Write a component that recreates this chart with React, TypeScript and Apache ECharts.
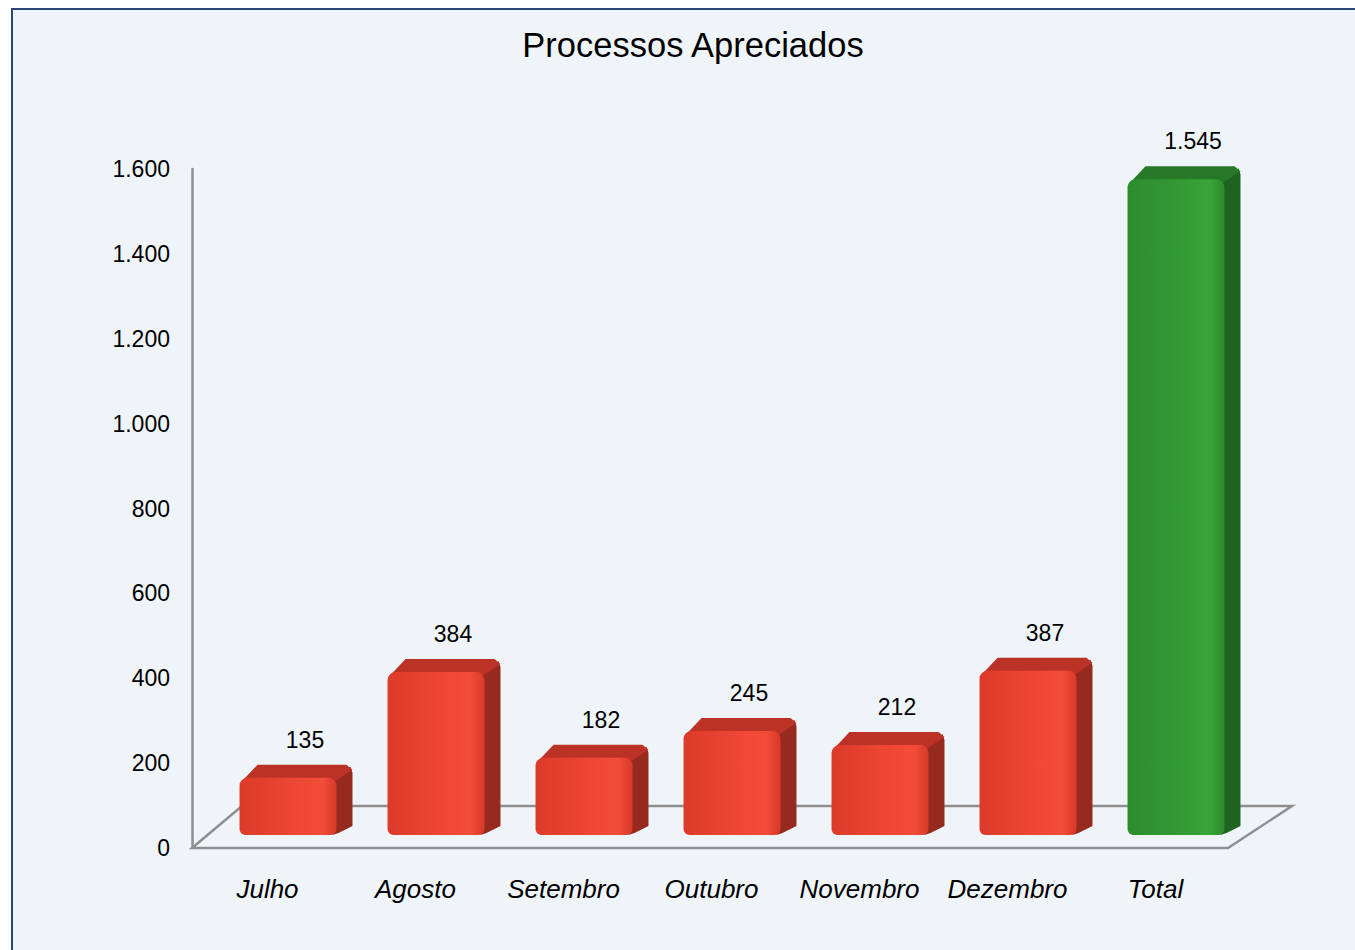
import React, { useEffect, useRef } from "react";
import * as echarts from "echarts";

const categories = ["Julho", "Agosto", "Setembro", "Outubro", "Novembro", "Dezembro", "Total"];
const values = [135, 384, 182, 245, 212, 387, 1545];
const yTicks = { min: 0, max: 1600, interval: 200 };
const titleText = "Processos Apreciados";

const RED = { front: ["#dc3a2a", "#ec4533", "#f34d3a", "#d8392a"], side: "#962a1f", top: "#bd3226" };
const GREEN = { front: ["#2c8c2c", "#339933", "#39a539", "#2c892c"], side: "#1f6320", top: "#28782a" };

const fmt = (v: number) => {
  const s = String(Math.round(v));
  return s.replace(/\B(?=(\d{3})+(?!\d))/g, ".");
};

const GRID = { left: 192, right: 127, top: 169, bottom: 102 };
const W = 1355;
const H = 950;
const DEPTH_X = 50;
const DEPTH_Y = 42;
const FONT = "Liberation Sans, Arial, sans-serif";

export default function App() {
  const ref = useRef<HTMLDivElement>(null);
  useEffect(() => {
    document.body.style.margin = "0";
    const chart = echarts.init(ref.current!, null, { renderer: "svg" });
    const fx0 = GRID.left;
    const fx1 = W - GRID.right;
    const fy = H - GRID.bottom;
    chart.setOption({
      animation: false,
      backgroundColor: "#ffffff",
      textStyle: { fontFamily: FONT },
      title: {
        text: titleText,
        left: 688,
        top: 22,
        textAlign: "center",
        textStyle: { fontSize: 34.5, fontWeight: "normal", color: "#000", fontFamily: FONT, lineHeight: 36 },
      },
      graphic: [
        {
          type: "rect",
          z: -10,
          silent: true,
          shape: { x: 12, y: 9, width: 1400, height: 1000 },
          style: { fill: "#eff4f9", stroke: "#2b4777", lineWidth: 2 },
        },
        {
          type: "polygon",
          z: 0,
          silent: true,
          shape: {
            points: [
              [fx0, fy],
              [fx1, fy],
              [fx1 + DEPTH_X + 14, fy - DEPTH_Y],
              [fx0 + DEPTH_X, fy - DEPTH_Y],
            ],
          },
          style: { fill: "none", stroke: "#8f8f8f", lineWidth: 2.5 },
        },
      ],
      grid: { left: GRID.left, right: GRID.right, top: GRID.top, bottom: GRID.bottom },
      xAxis: {
        type: "category",
        data: categories,
        axisLine: { show: false },
        axisTick: { show: false },
        axisLabel: {
          interval: 0,
          margin: 28,
          fontSize: 26,
          fontStyle: "italic",
          color: "#000",
          fontFamily: FONT,
          padding: [0, 0, 0, 3],
        },
      },
      yAxis: {
        type: "value",
        min: yTicks.min,
        max: yTicks.max,
        interval: yTicks.interval,
        splitLine: { show: false },
        axisTick: { show: false },
        axisLine: { show: true, lineStyle: { color: "#8f8f8f", width: 2.5 } },
        axisLabel: {
          margin: 22,
          fontSize: 23,
          color: "#000",
          fontFamily: FONT,
          formatter: (v: number) => fmt(v),
        },
      },
      series: [
        {
          type: "custom",
          z: 5,
          data: values.map((v, i) => [i, v]),
          renderItem: (params: any, api: any) => {
            const idx = api.value(0);
            const val = api.value(1);
            const base = api.coord([idx, 0]);
            const top = api.coord([idx, val]);
            const band = api.size([1, 0])[0];
            const w = band * 0.655;
            const cx = base[0] + 22;
            const x0 = cx - w / 2;
            const x1 = cx + w / 2;
            const yb = base[1] - 13;
            const yt = top[1] - 13;
            const dx = 16;
            const dy = 13;
            const c = idx === values.length - 1 ? GREEN : RED;
            const r = 8;
            return {
              type: "group",
              children: [
                {
                  type: "polygon",
                  shape: {
                    points: [
                      [x1 - 4, yt + 2],
                      [x1 + dx - 2, yt - dy + 2],
                      [x1 + dx, yt - dy + 8],
                      [x1 + dx, yb - dy + 4],
                      [x1 + 2, yb - 2],
                      [x1 - 4, yb],
                    ],
                  },
                  style: { fill: c.side },
                },
                {
                  type: "polygon",
                  shape: {
                    points: [
                      [x0 + 2, yt + 4],
                      [x0 + dx + 2, yt - dy],
                      [x1 + dx - 6, yt - dy],
                      [x1 + dx, yt - dy + 5],
                      [x1 - 2, yt + 4],
                    ],
                  },
                  style: { fill: c.top },
                },
                {
                  type: "rect",
                  shape: { x: x0, y: yt, width: w, height: yb - yt, r: [r, r, 6, 6] },
                  style: {
                    fill: new echarts.graphic.LinearGradient(0, 0, 1, 0, [
                      { offset: 0, color: c.front[0] },
                      { offset: 0.5, color: c.front[1] },
                      { offset: 0.85, color: c.front[2] },
                      { offset: 1, color: c.front[3] },
                    ]),
                  },
                },
                {
                  type: "text",
                  style: {
                    x: cx + 17,
                    y: yt - 38,
                    text: fmt(val),
                    fill: "#000",
                    fontSize: 23,
                    fontFamily: FONT,
                    align: "center",
                    verticalAlign: "middle",
                  },
                },
              ],
            };
          },
        },
      ],
    });
    return () => chart.dispose();
  }, []);
  return <div ref={ref} style={{ width: W, height: H, position: "fixed", left: 0, top: 0 }} />;
}
